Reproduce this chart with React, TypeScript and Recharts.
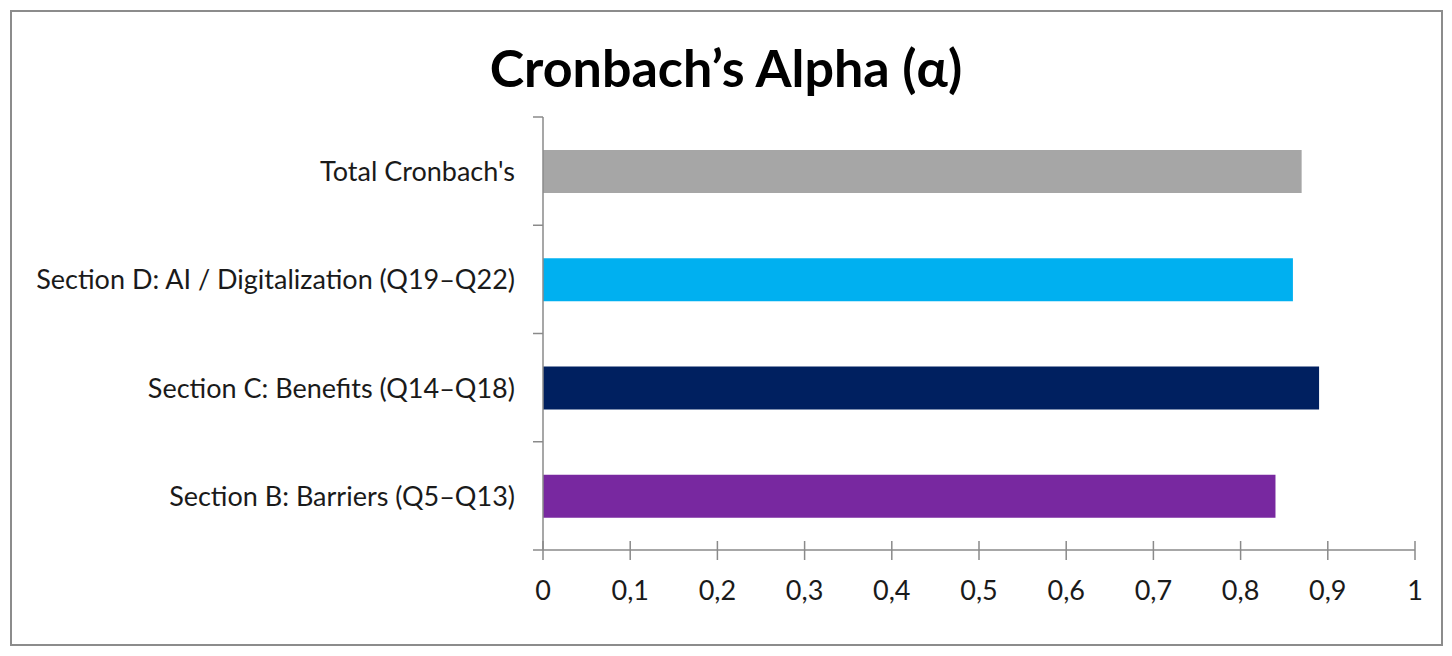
import { BarChart, Bar, XAxis, YAxis, Cell } from "recharts";

const categories = [
  "Total Cronbach's",
  "Section D: AI / Digitalization (Q19–Q22)",
  "Section C: Benefits (Q14–Q18)",
  "Section B: Barriers (Q5–Q13)",
];
const alphaValues = [0.87, 0.86, 0.89, 0.84];
const barColors = ["#a6a6a6", "#00b0f0", "#002060", "#7828a0"];
const xTicks = [0, 0.1, 0.2, 0.3, 0.4, 0.5, 0.6, 0.7, 0.8, 0.9, 1];

const data = categories.map((name, i) => ({ name, alpha: alphaValues[i] }));

const W = 1452;
const H = 656;
const PLOT = { top: 117, bottom: 550, left: 543, right: 1415 };
const BAND = (PLOT.bottom - PLOT.top) / categories.length;
const AXIS_SPACE = 10;
const AXIS = "#8a8a8a";
const FONT = "Lato, 'Open Sans', sans-serif";

function fmt(v: number) {
  return String(v).replace(".", ",");
}

function XTick(props: any) {
  const { x, y, payload } = props;
  return (
    <g>
      <line x1={x} x2={x} y1={y - 9} y2={y + 10} stroke={AXIS} strokeWidth={1.5} />
      <text x={x} y={y + 50} textAnchor="middle" fontSize={27} fontFamily={FONT} fill="#1a1a1a">
        {fmt(payload.value)}
      </text>
    </g>
  );
}

function YTick(props: any) {
  const { x, y, payload, index } = props;
  return (
    <g>
      <line x1={x - 10} x2={x} y1={y - BAND / 2} y2={y - BAND / 2} stroke={AXIS} strokeWidth={1.5} />
      {index === categories.length - 1 && (
        <line x1={x - 10} x2={x} y1={y + BAND / 2} y2={y + BAND / 2} stroke={AXIS} strokeWidth={1.5} />
      )}
      <text x={x - 28} y={y + 10} textAnchor="end" fontSize={27} fontFamily={FONT} fill="#1a1a1a">
        {payload.value}
      </text>
    </g>
  );
}

export default function App() {
  return (
    <div style={{ position: "absolute", left: 0, top: 0, width: W, height: H, background: "#fff" }}>
      <div
        style={{
          position: "absolute",
          left: 10,
          top: 10,
          width: 1433,
          height: 636,
          boxSizing: "border-box",
          border: "2px solid #8c8c8c",
        }}
      />
      <div
        style={{
          position: "absolute",
          left: 0,
          top: 37,
          width: W,
          textAlign: "center",
          fontFamily: FONT,
          fontWeight: 700,
          fontSize: 52,
          lineHeight: "60px",
          color: "#000",
        }}
      >
        Cronbach’s Alpha (α)
      </div>
      <div style={{ position: "absolute", left: 0, top: 0 }}>
        <BarChart
          width={W}
          height={H}
          data={data}
          layout="vertical"
          margin={{
            top: PLOT.top,
            bottom: H - PLOT.bottom - AXIS_SPACE,
            left: PLOT.left - AXIS_SPACE,
            right: W - PLOT.right,
          }}
        >
          <XAxis
            type="number"
            domain={[0, 1]}
            ticks={xTicks}
            height={AXIS_SPACE}
            tickSize={0}
            tickMargin={0}
            tickLine={false}
            axisLine={{ stroke: AXIS, strokeWidth: 1.5 }}
            tick={<XTick />}
            interval={0}
          />
          <YAxis
            type="category"
            dataKey="name"
            width={AXIS_SPACE}
            tickSize={0}
            tickMargin={0}
            tickLine={false}
            axisLine={{ stroke: AXIS, strokeWidth: 1.5 }}
            tick={<YTick />}
            interval={0}
          />
          <Bar dataKey="alpha" barSize={43} isAnimationActive={false}>
            {data.map((d, i) => (
              <Cell key={d.name} fill={barColors[i]} />
            ))}
          </Bar>
        </BarChart>
      </div>
    </div>
  );
}
